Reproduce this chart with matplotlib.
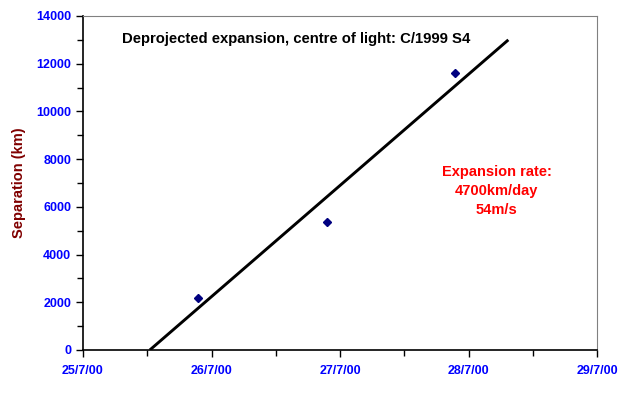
import matplotlib.pyplot as plt
from matplotlib.ticker import MultipleLocator

# observations (day of July 2000, separation in km)
obs_day = [25.895, 26.90, 27.895]
obs_sep = [2200, 5350, 11600]

# fitted expansion line
fit_day = [25.52, 28.31]
fit_sep = [0, 13000]

tick_days = [25, 26, 27, 28, 29]
tick_labels = ['25/7/00', '26/7/00', '27/7/00', '28/7/00', '29/7/00']

plt.rcParams['font.family'] = ['Liberation Sans', 'DejaVu Sans']
plt.rcParams['font.weight'] = 'bold'

fig = plt.figure(figsize=(6.43, 3.96), dpi=100)
ax = fig.add_axes([83 / 643, 46 / 396, 514 / 643, 334 / 396])

ax.plot(fit_day, fit_sep, color='black', lw=2.1, solid_capstyle='butt')
ax.plot(obs_day, obs_sep, ls='none', marker='D', ms=4, color='#000080')

ax.set_xlim(25, 29)
ax.set_ylim(0, 14000)
ax.set_xticks(tick_days)
ax.set_xticklabels(tick_labels)
ax.xaxis.set_minor_locator(MultipleLocator(0.5))
ax.yaxis.set_major_locator(MultipleLocator(2000))
ax.yaxis.set_minor_locator(MultipleLocator(1000))

ax.tick_params(which='both', direction='out', color='black', width=1)
ax.tick_params(which='major', length=5, labelsize=9, labelcolor='#0000FF')
ax.tick_params(which='minor', length=4)
ax.tick_params(axis='x', pad=6)
for lbl in ax.get_xticklabels() + ax.get_yticklabels():
    lbl.set_fontweight('bold')

ax.spines['top'].set_color('#808080')
ax.spines['right'].set_color('#808080')
ax.spines['left'].set_linewidth(1.2)
ax.spines['bottom'].set_linewidth(1.2)

ax.set_ylabel('Separation (km)', color='#800000', fontsize=10.5, fontweight='bold', labelpad=7)

ax.text(0.076, 0.932, 'Deprojected expansion, centre of light: C/1999 S4',
        transform=ax.transAxes, fontsize=10.7, fontweight='bold', color='black', va='center')
ax.text(0.805, 0.476, 'Expansion rate:\n4700km/day\n54m/s', transform=ax.transAxes,
        fontsize=10.5, fontweight='bold', color='red', ha='center', va='center', linespacing=1.45)

fig.savefig('out.png', dpi=100)
